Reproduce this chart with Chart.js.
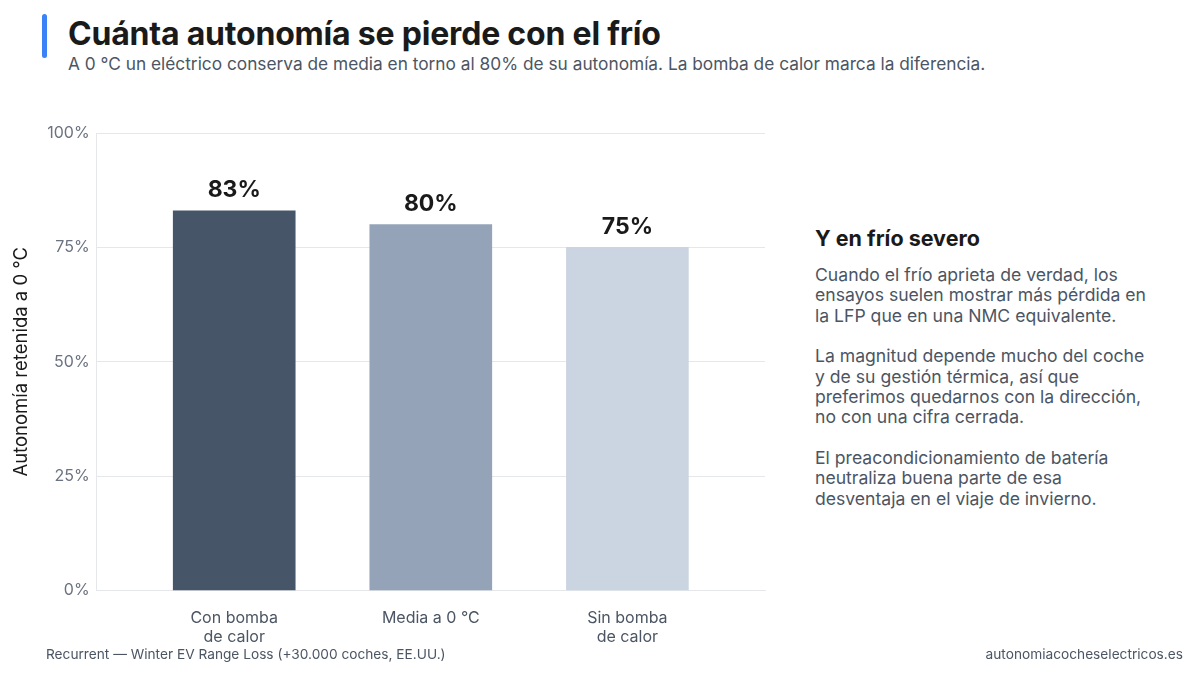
<!DOCTYPE html>
<html lang="es">
<head>
<meta charset="utf-8">
<script src="https://cdn.jsdelivr.net/npm/chart.js@4.4.1/dist/chart.umd.min.js"></script>
<style>
  html, body { margin: 0; padding: 0; background: #fff; }
  body { width: 1200px; height: 679px; position: relative; overflow: hidden; font-family: Inter, "Noto Sans", sans-serif; color: #4b5563; }
  .accent { position: absolute; left: 42px; top: 14px; width: 5px; height: 44px; border-radius: 3px; background: #3b82f6; }
  h1 { position: absolute; left: 68px; top: 13px; margin: 0; font-size: 32px; font-weight: 700; color: #1a1a1a; letter-spacing: -0.2px; line-height: 42px; }
  .sub { position: absolute; left: 68px; top: 53px; font-size: 17.3px; color: #4b5563; line-height: 22px; }
  .side { position: absolute; left: 815px; top: 223px; width: 350px; }
  .side h2 { margin: 0 0 12px; font-size: 21.5px; font-weight: 700; color: #1a1a1a; line-height: 30px; }
  .side p { margin: 0 0 20px; font-size: 17.6px; line-height: 20.4px; color: #4b5563; }
  .foot { position: absolute; top: 645px; font-size: 13.7px; color: #4b5563; line-height: 18px; }
  #wrap { position: absolute; left: 0; top: 110px; width: 800px; height: 547px; }
</style>
</head>
<body>
<div class="accent"></div>
<h1>Cuánta autonomía se pierde con el frío</h1>
<div class="sub">A 0 °C un eléctrico conserva de media en torno al 80% de su autonomía. La bomba de calor marca la diferencia.</div>
<div id="wrap"><canvas id="chart"></canvas></div>
<div class="side">
  <h2>Y en frío severo</h2>
  <p>Cuando el frío aprieta de verdad, los<br>ensayos suelen mostrar más pérdida en<br>la LFP que en una NMC equivalente.</p>
  <p>La magnitud depende mucho del coche<br>y de su gestión térmica, así que<br>preferimos quedarnos con la dirección,<br>no con una cifra cerrada.</p>
  <p>El preacondicionamiento de batería<br>neutraliza buena parte de esa<br>desventaja en el viaje de invierno.</p>
</div>
<div class="foot" style="left:46px">Recurrent — Winter EV Range Loss (+30.000 coches, EE.UU.)</div>
<div class="foot" style="right:17px">autonomiacocheselectricos.es</div>
<script>
const categories = [['Con bomba', 'de calor'], 'Media a 0 °C', ['Sin bomba', 'de calor']];
const retained = [83, 80, 75];
const barColors = ['#475569', '#94a3b8', '#cbd5e1'];
const yTicks = [0, 25, 50, 75, 100];

const valueLabels = {
  id: 'valueLabels',
  afterDatasetsDraw(chart) {
    const ctx = chart.ctx;
    const meta = chart.getDatasetMeta(0);
    ctx.save();
    ctx.font = '700 23px Inter, sans-serif';
    ctx.fillStyle = '#1a1a1a';
    ctx.textAlign = 'center';
    ctx.textBaseline = 'bottom';
    meta.data.forEach((bar, i) => {
      ctx.fillText(retained[i] + '%', bar.x, bar.y - 9);
    });
    ctx.restore();
  }
};

new Chart(document.getElementById('chart'), {
  type: 'bar',
  data: {
    datasets: [{
      data: retained.map((v, i) => ({ x: i, y: v })),
      backgroundColor: barColors,
      barThickness: 122,
      borderWidth: 0
    }]
  },
  options: {
    responsive: true,
    maintainAspectRatio: false,
    animation: false,
    layout: { padding: { left: 10, right: 35, top: 23, bottom: 0 } },
    plugins: { legend: { display: false }, tooltip: { enabled: false } },
    scales: {
      x: {
        type: 'linear',
        offset: false,
        min: -0.7,
        max: 2.7,
        afterBuildTicks: (axis) => { axis.ticks = categories.map((c, i) => ({ value: i })); },
        grid: { display: false },
        border: { display: true, color: '#e5e7eb' },
        ticks: {
          autoSkip: false,
          maxRotation: 0,
          padding: 10,
          color: '#4b5563',
          font: { family: 'Inter', size: 16 },
          callback: (v) => categories[v]
        }
      },
      y: {
        min: 0,
        max: 100,
        afterBuildTicks: (axis) => { axis.ticks = yTicks.map(v => ({ value: v })); },
        grid: { color: '#e5e7eb', drawTicks: false },
        border: { display: true, color: '#e5e7eb' },
        ticks: {
          padding: 7,
          color: '#6b7280',
          font: { family: 'Inter', size: 16 },
          callback: (v) => v + '%'
        },
        title: {
          display: true,
          text: 'Autonomía retenida a 0 °C',
          color: '#1a1a1a',
          font: { family: 'Inter', size: 18.5 },
          padding: { top: 0, bottom: 8 }
        }
      }
    }
  },
  plugins: [valueLabels]
});
</script>
</body>
</html>
